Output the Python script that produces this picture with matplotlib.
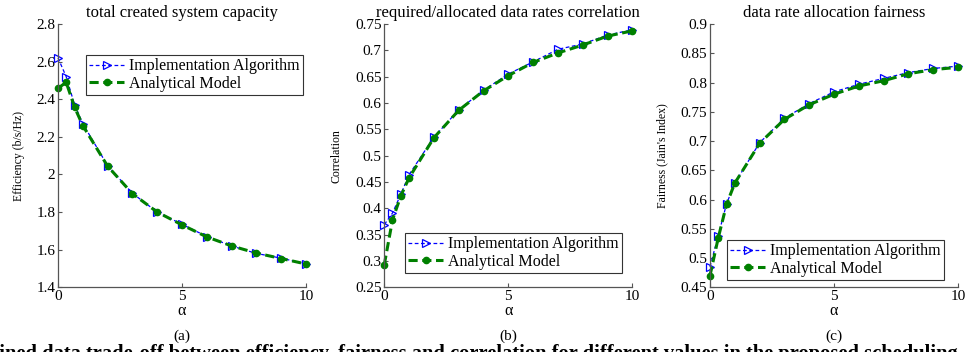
import numpy as np
import matplotlib
matplotlib.use('Agg')
import matplotlib.pyplot as plt
from matplotlib.ticker import FuncFormatter

plt.rcParams['font.family'] = ['Liberation Serif', 'DejaVu Serif']

alpha = [0, 0.33, 0.67, 1, 2, 3, 4, 5, 6, 7, 8, 9, 10]

# (a) efficiency
eff_impl = [2.62, 2.52, 2.37, 2.27, 2.047, 1.90, 1.80, 1.735, 1.67, 1.62, 1.58, 1.555, 1.524]
eff_model = [2.458, 2.49, 2.357, 2.26, 2.044, 1.898, 1.80, 1.732, 1.668, 1.62, 1.582, 1.553, 1.524]

# (b) correlation
corr_impl = [0.369, 0.391, 0.427, 0.464, 0.535, 0.587, 0.624, 0.655, 0.678, 0.702, 0.712, 0.729, 0.739]
corr_model = [0.293, 0.378, 0.424, 0.458, 0.534, 0.586, 0.623, 0.652, 0.677, 0.695, 0.710, 0.727, 0.737]

# (c) fairness
fair_impl = [0.485, 0.538, 0.593, 0.628, 0.697, 0.739, 0.764, 0.784, 0.797, 0.807, 0.817, 0.824, 0.828]
fair_model = [0.470, 0.534, 0.592, 0.628, 0.696, 0.737, 0.762, 0.780, 0.794, 0.803, 0.815, 0.822, 0.826]

titles = ['total created system capacity',
          'required/allocated data rates correlation',
          'data rate allocation fairness']
ylabels = ['Efficiency (b/s/Hz)', 'Correlation', "Fairness (Jain's Index)"]
letters = ['(a)', '(b)', '(c)']
ylims = [(1.4, 2.8), (0.25, 0.75), (0.45, 0.9)]
ysteps = [0.2, 0.05, 0.05]
impl = [eff_impl, corr_impl, fair_impl]
model = [eff_model, corr_model, fair_model]

W, H = 966, 352
fig = plt.figure(figsize=(W / 100, H / 100), dpi=100)

lefts = [58, 384.3, 710]
top, bottom = 24, 287.3
width = 248
leg_anchor = [(0.112, 0.882), (0.084, 0.206), (0.069, 0.18)]
ylab_x = [-0.135, -0.17, -0.17]

for k in range(3):
    ax = fig.add_axes([lefts[k] / W, (H - bottom) / H, width / W, (bottom - top) / H])
    ax.plot(alpha, impl[k], '--', color='blue', lw=0.9, marker='>', ms=5.5,
            mfc='none', mec='blue', mew=0.9, dashes=(3, 2), clip_on=False,
            label='Implementation Algorithm')
    ax.plot(alpha, model[k], '--', color='#008000', lw=2.2, marker='o', ms=4.5,
            mfc='#008000', mec='#008000', dashes=(3, 1.5), clip_on=False,
            label='Analytical Model')
    ax.set_xlim(0, 10)
    ax.set_ylim(*ylims[k])
    ax.set_xticks([0, 5, 10])
    lo, hi = ylims[k]
    ax.set_yticks(np.arange(lo, hi + ysteps[k] / 2, ysteps[k]))
    ax.yaxis.set_major_formatter(FuncFormatter(lambda v, p: '%g' % round(v, 3)))
    for s in ['top', 'right']:
        ax.spines[s].set_visible(False)
    for s in ['left', 'bottom']:
        ax.spines[s].set_color('#555555')
        ax.spines[s].set_linewidth(0.9)
    ax.tick_params(direction='in', length=3, width=0.8, color='#555555',
                   labelsize=11, pad=2)
    ax.set_title(titles[k], fontsize=12, pad=5)
    ax.set_xlabel('α', fontsize=11.5, labelpad=0)
    ax.set_ylabel(ylabels[k], fontsize=8.5)
    ax.yaxis.set_label_coords(ylab_x[k], 0.5)
    leg = ax.legend(loc='upper left', bbox_to_anchor=leg_anchor[k], fontsize=11.5,
                    frameon=True, fancybox=False, framealpha=1, edgecolor='#333333',
                    borderpad=0.2, handlelength=2.2, handletextpad=0.3,
                    labelspacing=0.1, borderaxespad=0)
    leg.get_frame().set_linewidth(0.8)
    leg.set_zorder(5)
    fig.text((lefts[k] + width / 2) / W, 1 - 336 / H, letters[k], ha='center',
             va='center', fontsize=11)

fig.text(0.49, -7 / H, 'ained data trade-off between efficiency, fairness and correlation '
         'for different values in the proposed scheduling', ha='center', va='baseline',
         fontsize=14.8, fontweight='bold')

fig.savefig('out.png', dpi=100)
